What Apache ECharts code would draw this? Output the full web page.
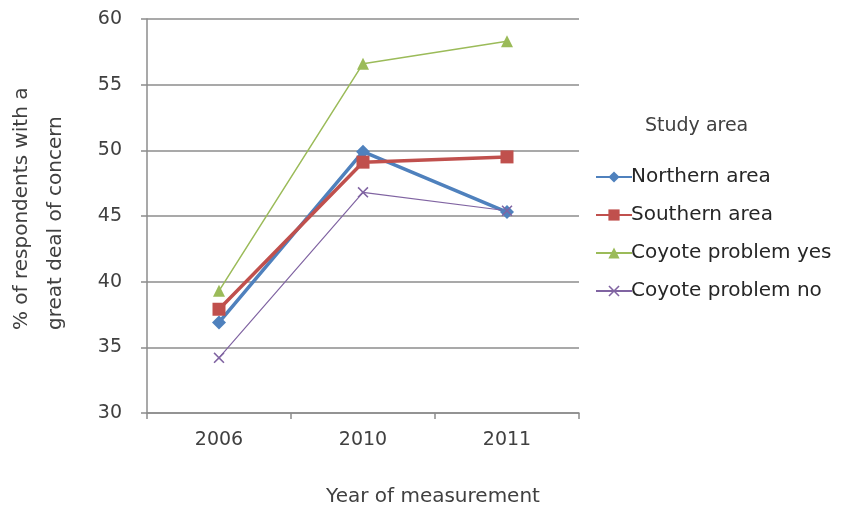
<!DOCTYPE html>
<html>
<head>
<meta charset="utf-8">
<script src="https://cdn.jsdelivr.net/npm/echarts@6/dist/echarts.min.js"></script>
<style>html,body{margin:0;padding:0;background:#fff}#c{width:844px;height:510px}</style>
</head>
<body>
<div id="c"></div>
<script>
var categories = ['2006', '2010', '2011'];
var seriesNames = ['Northern area', 'Southern area', 'Coyote problem yes', 'Coyote problem no'];
var northern = [36.9, 49.9, 45.3];
var southern = [37.9, 49.1, 49.5];
var coyoteYes = [39.3, 56.6, 58.3];
var coyoteNo = [34.2, 46.8, 45.4];
var yTicks = { min: 30, max: 60, interval: 5 };
var xTitle = 'Year of measurement';
var yTitleLines = ['% of respondents with a', 'great deal of concern'];
var legendTitle = 'Study area';

var FONT = 'DejaVu Sans';
var chart = echarts.init(document.getElementById('c'), null, { renderer: 'canvas' });
var crossPath = 'path://M0,1 L1,0 L5,4 L9,0 L10,1 L6,5 L10,9 L9,10 L5,6 L1,10 L0,9 L4,5 Z';

function mk(name, data, color, width, symbol, size) {
  return {
    name: name, type: 'line', data: data,
    symbol: symbol, symbolSize: size,
    lineStyle: { color: color, width: width },
    itemStyle: { color: color },
    emphasis: { disabled: true },
    animation: false
  };
}

chart.setOption({
  animation: false,
  backgroundColor: '#ffffff',
  textStyle: { fontFamily: FONT },
  grid: { left: 147, right: 265, top: 19, bottom: 97 },
  xAxis: {
    type: 'category', data: categories, boundaryGap: true,
    axisLine: { lineStyle: { color: '#8c8c8c', width: 1.5 } },
    axisTick: { show: true, length: 6, lineStyle: { color: '#8c8c8c', width: 1.5 } },
    axisLabel: { color: '#404040', fontSize: 19, fontFamily: FONT, margin: 18 },
    splitLine: { show: false }
  },
  yAxis: {
    type: 'value', min: yTicks.min, max: yTicks.max, interval: yTicks.interval,
    axisLine: { show: true, lineStyle: { color: '#8c8c8c', width: 1.5 } },
    axisTick: { show: true, length: 6, lineStyle: { color: '#8c8c8c', width: 1.5 } },
    axisLabel: { color: '#404040', fontSize: 19, fontFamily: FONT, margin: 25 },
    splitLine: { show: true, lineStyle: { color: '#8c8c8c', width: 1.5 } }
  },
  legend: {
    orient: 'vertical', left: 590, top: 162,
    itemWidth: 36, itemHeight: 14, itemGap: 18,
    textStyle: { color: '#262626', fontSize: 20, fontFamily: FONT, padding: [0, 0, 0, -6] },
    data: seriesNames
  },
  graphic: [
    { type: 'text', left: 645, top: 117, style: { text: legendTitle, fill: '#404040', font: '19px "' + FONT + '"' } },
    { type: 'text', x: 433, y: 497, style: { text: xTitle, fill: '#404040', font: '20px "' + FONT + '"', textAlign: 'center', textVerticalAlign: 'middle' } },
    { type: 'text', x: 22, y: 330, rotation: Math.PI / 2, style: { text: yTitleLines[0], fill: '#404040', font: '20px "' + FONT + '"', textAlign: 'left', textVerticalAlign: 'middle' } },
    { type: 'text', x: 56, y: 330, rotation: Math.PI / 2, style: { text: yTitleLines[1], fill: '#404040', font: '20px "' + FONT + '"', textAlign: 'left', textVerticalAlign: 'middle' } }
  ],
  series: [
    mk(seriesNames[0], northern, '#4F81BD', 3.5, 'diamond', 14),
    mk(seriesNames[1], southern, '#C0504D', 3.5, 'rect', 13),
    mk(seriesNames[2], coyoteYes, '#9BBB59', 1.5, 'triangle', 12),
    mk(seriesNames[3], coyoteNo, '#8064A2', 1.2, crossPath, 11)
  ]
});
</script>
</body>
</html>
